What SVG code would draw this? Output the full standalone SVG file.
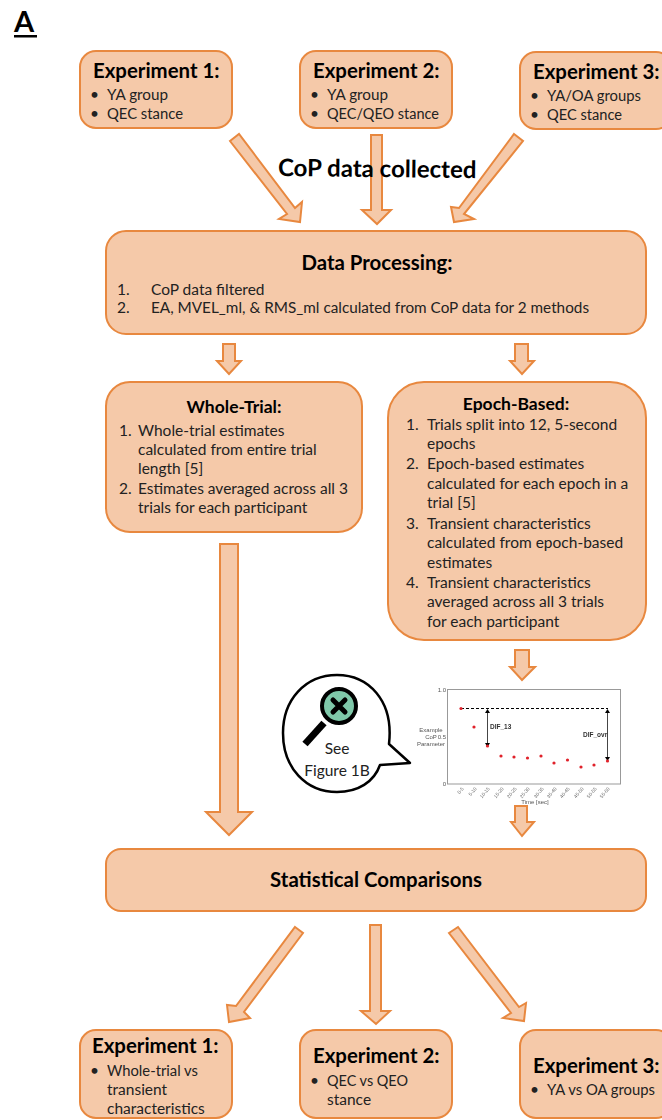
<svg xmlns="http://www.w3.org/2000/svg" width="662" height="1120" viewBox="0 0 662 1120">
<defs><filter id="soft" x="-5%" y="-5%" width="110%" height="110%"><feGaussianBlur stdDeviation="0.35"/></filter></defs>
<style>
text{font-family:"Lato","Open Sans","Liberation Sans",sans-serif;fill:#111}
.b{fill:#f5c9a9;stroke:#e8883f;stroke-width:2}
.a{fill:#f5c9a9;stroke:#e8883f;stroke-width:2;stroke-linejoin:miter}
.h{font-weight:700;font-size:20.400px;fill:#000}
.w{font-weight:700;font-size:17.500px;fill:#000}
.t{font-size:15.500px;fill:#222}
.s{font-family:"Liberation Sans",sans-serif;font-size:6px;fill:#555}
.d{font-family:"Liberation Sans",sans-serif;font-size:6.500px;font-weight:700;fill:#333}
.k{font-family:"Liberation Sans",sans-serif;font-size:4.800px;fill:#666;text-anchor:end}
.pt{fill:#e0202a}
</style>
<rect width="662" height="1120" fill="#fff"/>
<g id="label-A"><text x="14" y="32" style="font-size:29px;font-weight:700;fill:#000">A</text><rect x="14" y="35" width="23" height="2.500" fill="#000"/></g>
<g id="connectors">
<polygon class="a" points="230,141 239,134 295,208 302,202 300,222 279,219 287,214"/>
<polygon class="a" points="371,135 382,135 382,210 391,210 377,224 362,210 371,210"/>
<polygon class="a" points="514,134 523,141 464,214 474,219 454,222 451,207 459,208"/>
<polygon class="a" points="223,344 235,344 235,361 241,361 229,374 217,361 223,361"/>
<polygon class="a" points="515,344 528,344 528,361 534,361 522,374 510,361 515,361"/>
<polygon class="a" points="220,544 238,544 238,812 252,812 229,835 206,812 220,812"/>
<polygon class="a" points="515,650 529,650 529,667 535,667 522,680 510,667 515,667"/>
<polygon class="a" points="515,806 527,806 527,822 534,822 522,836 511,822 515,822"/>
<polygon class="a" points="295,927 303,933 244,1012 250,1018 229,1022 227,1005 236,1006"/>
<polygon class="a" points="370,925 381,925 381,1011 390,1011 376,1024 361,1011 370,1011"/>
<polygon class="a" points="449,933 458,927 519,1007 526,1003 524,1021 503,1018 511,1013"/>
</g>
<g id="exp1-top"><rect class="b" x="80" y="51" width="152" height="77" rx="16"/><text class="h" x="93" y="78">Experiment 1:</text><text class="t" x="90" y="100">•</text><text class="t" x="107" y="100" textLength="61" lengthAdjust="spacingAndGlyphs">YA group</text><text class="t" x="90" y="119">•</text><text class="t" x="107" y="119" textLength="76" lengthAdjust="spacingAndGlyphs">QEC stance</text></g>
<g id="exp2-top"><rect class="b" x="300" y="51" width="152" height="77" rx="16"/><text class="h" x="313" y="78">Experiment 2:</text><text class="t" x="310" y="100">•</text><text class="t" x="327" y="100" textLength="61" lengthAdjust="spacingAndGlyphs">YA group</text><text class="t" x="310" y="119">•</text><text class="t" x="327" y="119" textLength="112" lengthAdjust="spacingAndGlyphs">QEC/QEO stance</text></g>
<g id="exp3-top"><rect class="b" x="520" y="52" width="152" height="77" rx="16"/><text class="h" x="533" y="79">Experiment 3:</text><text class="t" x="530" y="101">•</text><text class="t" x="547" y="101" textLength="94" lengthAdjust="spacingAndGlyphs">YA/OA groups</text><text class="t" x="530" y="120">•</text><text class="t" x="547" y="120" textLength="75" lengthAdjust="spacingAndGlyphs">QEC stance</text></g>
<text id="cop-label" x="278" y="176" transform="rotate(0.6 278 176)" style="font-size:24px;font-weight:700;fill:#000">CoP data collected</text>
<g id="data-processing"><rect class="b" x="106" y="231" width="540" height="103" rx="20"/><text class="h" x="377" y="270" text-anchor="middle">Data Processing:</text><text class="t" x="117" y="295">1.</text><text class="t" x="151" y="295">CoP data filtered</text><text class="t" x="117" y="313">2.</text><text class="t" x="151" y="313" textLength="438" lengthAdjust="spacingAndGlyphs">EA, MVEL_ml, &amp; RMS_ml calculated from CoP data for 2 methods</text></g>
<g id="whole-trial"><rect class="b" x="106" y="382" width="256" height="150" rx="24"/><text class="w" x="234" y="413" text-anchor="middle">Whole-Trial:</text>
<text class="t" x="119" y="436">1.</text><text class="t" x="138" y="436">Whole-trial estimates</text><text class="t" x="138" y="455">calculated from entire trial</text><text class="t" x="138" y="474">length [5]</text><text class="t" x="119" y="494">2.</text><text class="t" x="138" y="494">Estimates averaged across all 3</text><text class="t" x="138" y="513">trials for each participant</text></g>
<g id="epoch-based"><rect class="b" x="388" y="382" width="258" height="258" rx="36"/><text class="w" x="516" y="410" text-anchor="middle">Epoch-Based:</text>
<text class="t" x="406" y="430">1.</text><text class="t" x="427" y="430">Trials split into 12, 5-second</text><text class="t" x="427" y="449">epochs</text><text class="t" x="406" y="469">2.</text><text class="t" x="427" y="469">Epoch-based estimates</text><text class="t" x="427" y="489">calculated for each epoch in a</text><text class="t" x="427" y="508">trial [5]</text><text class="t" x="406" y="529">3.</text><text class="t" x="427" y="529">Transient characteristics</text><text class="t" x="427" y="548">calculated from epoch-based</text><text class="t" x="427" y="568">estimates</text><text class="t" x="406" y="588">4.</text><text class="t" x="427" y="588">Transient characteristics</text><text class="t" x="427" y="607">averaged across all 3 trials</text><text class="t" x="427" y="627">for each participant</text></g>
<g id="see-figure">
<path d="M389,744 C394,700 368,675 337,675 C305,675 283,700 283,733 C283,768 306,792 337,792 C358,792 374,782 380,765 L410,763 Z" fill="#fff" stroke="#000" stroke-width="2.500" stroke-linejoin="round"/>
<line x1="305" y1="744" x2="324" y2="723" stroke="#000" stroke-width="7"/>
<circle cx="339" cy="706" r="17" fill="#7fc8a9" stroke="#000" stroke-width="4"/>
<path d="M333,700 L345,712 M345,700 L333,712" stroke="#000" stroke-width="5" stroke-linecap="round"/>
<text x="337" y="754" text-anchor="middle" style="font-size:15.500px;fill:#222">See</text><text x="337" y="776" text-anchor="middle" style="font-size:15.500px;fill:#222">Figure 1B</text>
</g>
<g id="chart" filter="url(#soft)">
<rect x="447.500" y="689.500" width="173" height="94.500" fill="#fff" stroke="#999" stroke-width="1"/>
<text class="s" x="446" y="692" text-anchor="end">1.0</text><text class="s" x="446" y="739" text-anchor="end">0.5</text><text class="s" x="446" y="786" text-anchor="end">0</text>
<text class="s" x="431" y="732" text-anchor="middle">Example</text><text class="s" x="431" y="739" text-anchor="middle">CoP</text><text class="s" x="431" y="746" text-anchor="middle">Parameter</text>
<line x1="461" y1="708.500" x2="608" y2="708.500" stroke="#000" stroke-dasharray="3 2" stroke-width="1"/>
<path d="M487.500,711 V745 M607.500,711 V759" stroke="#444" stroke-width="1"/>
<path d="M485,713 L487.500,709 L490,713 Z M485,743 L487.500,747 L490,743 Z M605,713 L607.500,709 L610,713 Z M605,757 L607.500,761 L610,757 Z" fill="#000"/>
<text class="d" x="490" y="729">DIF_13</text>
<text class="d" x="583" y="737">DIF_ovr</text>
<g class="pt"><circle cx="461" cy="708.500" r="1.600"/><circle cx="474" cy="727" r="1.600"/><circle cx="487.500" cy="746" r="1.600"/><circle cx="501" cy="756" r="1.600"/><circle cx="514" cy="757" r="1.600"/><circle cx="527.500" cy="758" r="1.600"/><circle cx="541" cy="756" r="1.600"/><circle cx="554" cy="763" r="1.600"/><circle cx="567.500" cy="760" r="1.600"/><circle cx="581" cy="767" r="1.600"/><circle cx="594" cy="765" r="1.600"/><circle cx="607.500" cy="761" r="1.600"/></g>
<text class="k" transform="translate(464,789) rotate(-50)">0-5</text><text class="k" transform="translate(477,789) rotate(-50)">5-10</text><text class="k" transform="translate(490,789) rotate(-50)">10-15</text><text class="k" transform="translate(504,789) rotate(-50)">15-20</text><text class="k" transform="translate(517,789) rotate(-50)">20-25</text><text class="k" transform="translate(530,789) rotate(-50)">25-30</text><text class="k" transform="translate(544,789) rotate(-50)">30-35</text><text class="k" transform="translate(557,789) rotate(-50)">35-40</text><text class="k" transform="translate(570,789) rotate(-50)">40-45</text><text class="k" transform="translate(584,789) rotate(-50)">45-50</text><text class="k" transform="translate(597,789) rotate(-50)">50-55</text><text class="k" transform="translate(610,789) rotate(-50)">55-60</text>
<text class="s" x="535" y="804" text-anchor="middle">Time [sec]</text>
</g>
<g id="stats"><rect class="b" x="106" y="849" width="540" height="62" rx="15"/><text class="h" x="376" y="887" text-anchor="middle">Statistical Comparisons</text></g>
<g id="exp1-bottom"><rect class="b" x="80" y="1030" width="152" height="88" rx="16"/><text class="h" x="92" y="1053">Experiment 1:</text><text class="t" x="90" y="1076">•</text><text class="t" x="107" y="1076" textLength="91" lengthAdjust="spacingAndGlyphs">Whole-trial vs</text><text class="t" x="107" y="1095">transient</text><text class="t" x="107" y="1114">characteristics</text></g>
<g id="exp2-bottom"><rect class="b" x="300" y="1030" width="152" height="88" rx="16"/><text class="h" x="313" y="1063">Experiment 2:</text><text class="t" x="310" y="1086">•</text><text class="t" x="327" y="1086" textLength="81" lengthAdjust="spacingAndGlyphs">QEC vs QEO</text><text class="t" x="327" y="1105">stance</text></g>
<g id="exp3-bottom"><rect class="b" x="520" y="1030" width="152" height="88" rx="16"/><text class="h" x="533" y="1073">Experiment 3:</text><text class="t" x="530" y="1095">•</text><text class="t" x="547" y="1095" textLength="108" lengthAdjust="spacingAndGlyphs">YA vs OA groups</text></g>
</svg>
